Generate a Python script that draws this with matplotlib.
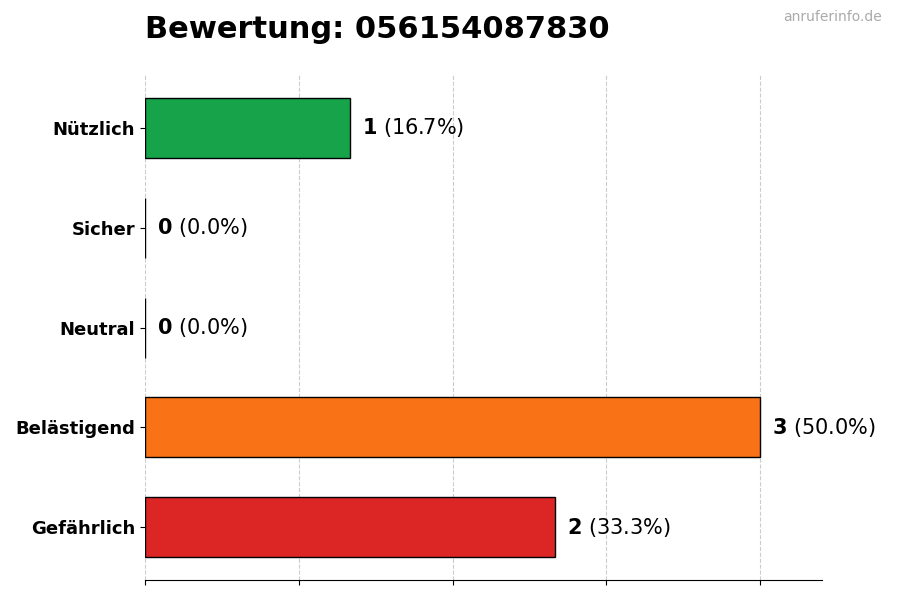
import matplotlib
matplotlib.use("Agg")
import matplotlib.pyplot as plt

categories = ["Gefährlich", "Belästigend", "Neutral", "Sicher", "Nützlich"]
counts = [2, 3, 0, 0, 1]
percents = [33.3, 50.0, 0.0, 0.0, 16.7]
colors = ["#dc2626", "#f97316", "#9ca3af", "#3b82f6", "#16a34a"]

fig = plt.figure(figsize=(9, 6), dpi=100)
ax = fig.add_axes([0.161, 0.033, 0.752, 0.842])
y = range(len(categories))
ax.barh(y, counts, height=0.6, color=colors, edgecolor="black", linewidth=1, zorder=3)
for i, (c, p) in enumerate(zip(counts, percents)):
    ax.text(c + 0.06, i, f"$\\bf{{{c}}}$ ({p:.1f}%)", va="center", ha="left", fontsize=15)
ax.set_yticks(list(y))
ax.set_yticklabels(categories, fontsize=13, fontweight="bold")
ax.set_xlim(0, 3.3)
ax.set_ylim(-0.53, 4.53)
ax.set_xticks([0, 0.75, 1.5, 2.25, 3.0])
ax.set_xticklabels([])
ax.grid(axis="x", linestyle="--", color="#cccccc", zorder=0)
for s in ["top", "right", "left"]:
    ax.spines[s].set_visible(False)
fig.text(0.161, 0.95, "Bewertung: 056154087830", fontsize=22, fontweight="bold", ha="left", va="center")
fig.text(0.98, 0.972, "anruferinfo.de", fontsize=10, color="#aaaaaa", ha="right", va="center")
fig.savefig("out.png", dpi=100)
